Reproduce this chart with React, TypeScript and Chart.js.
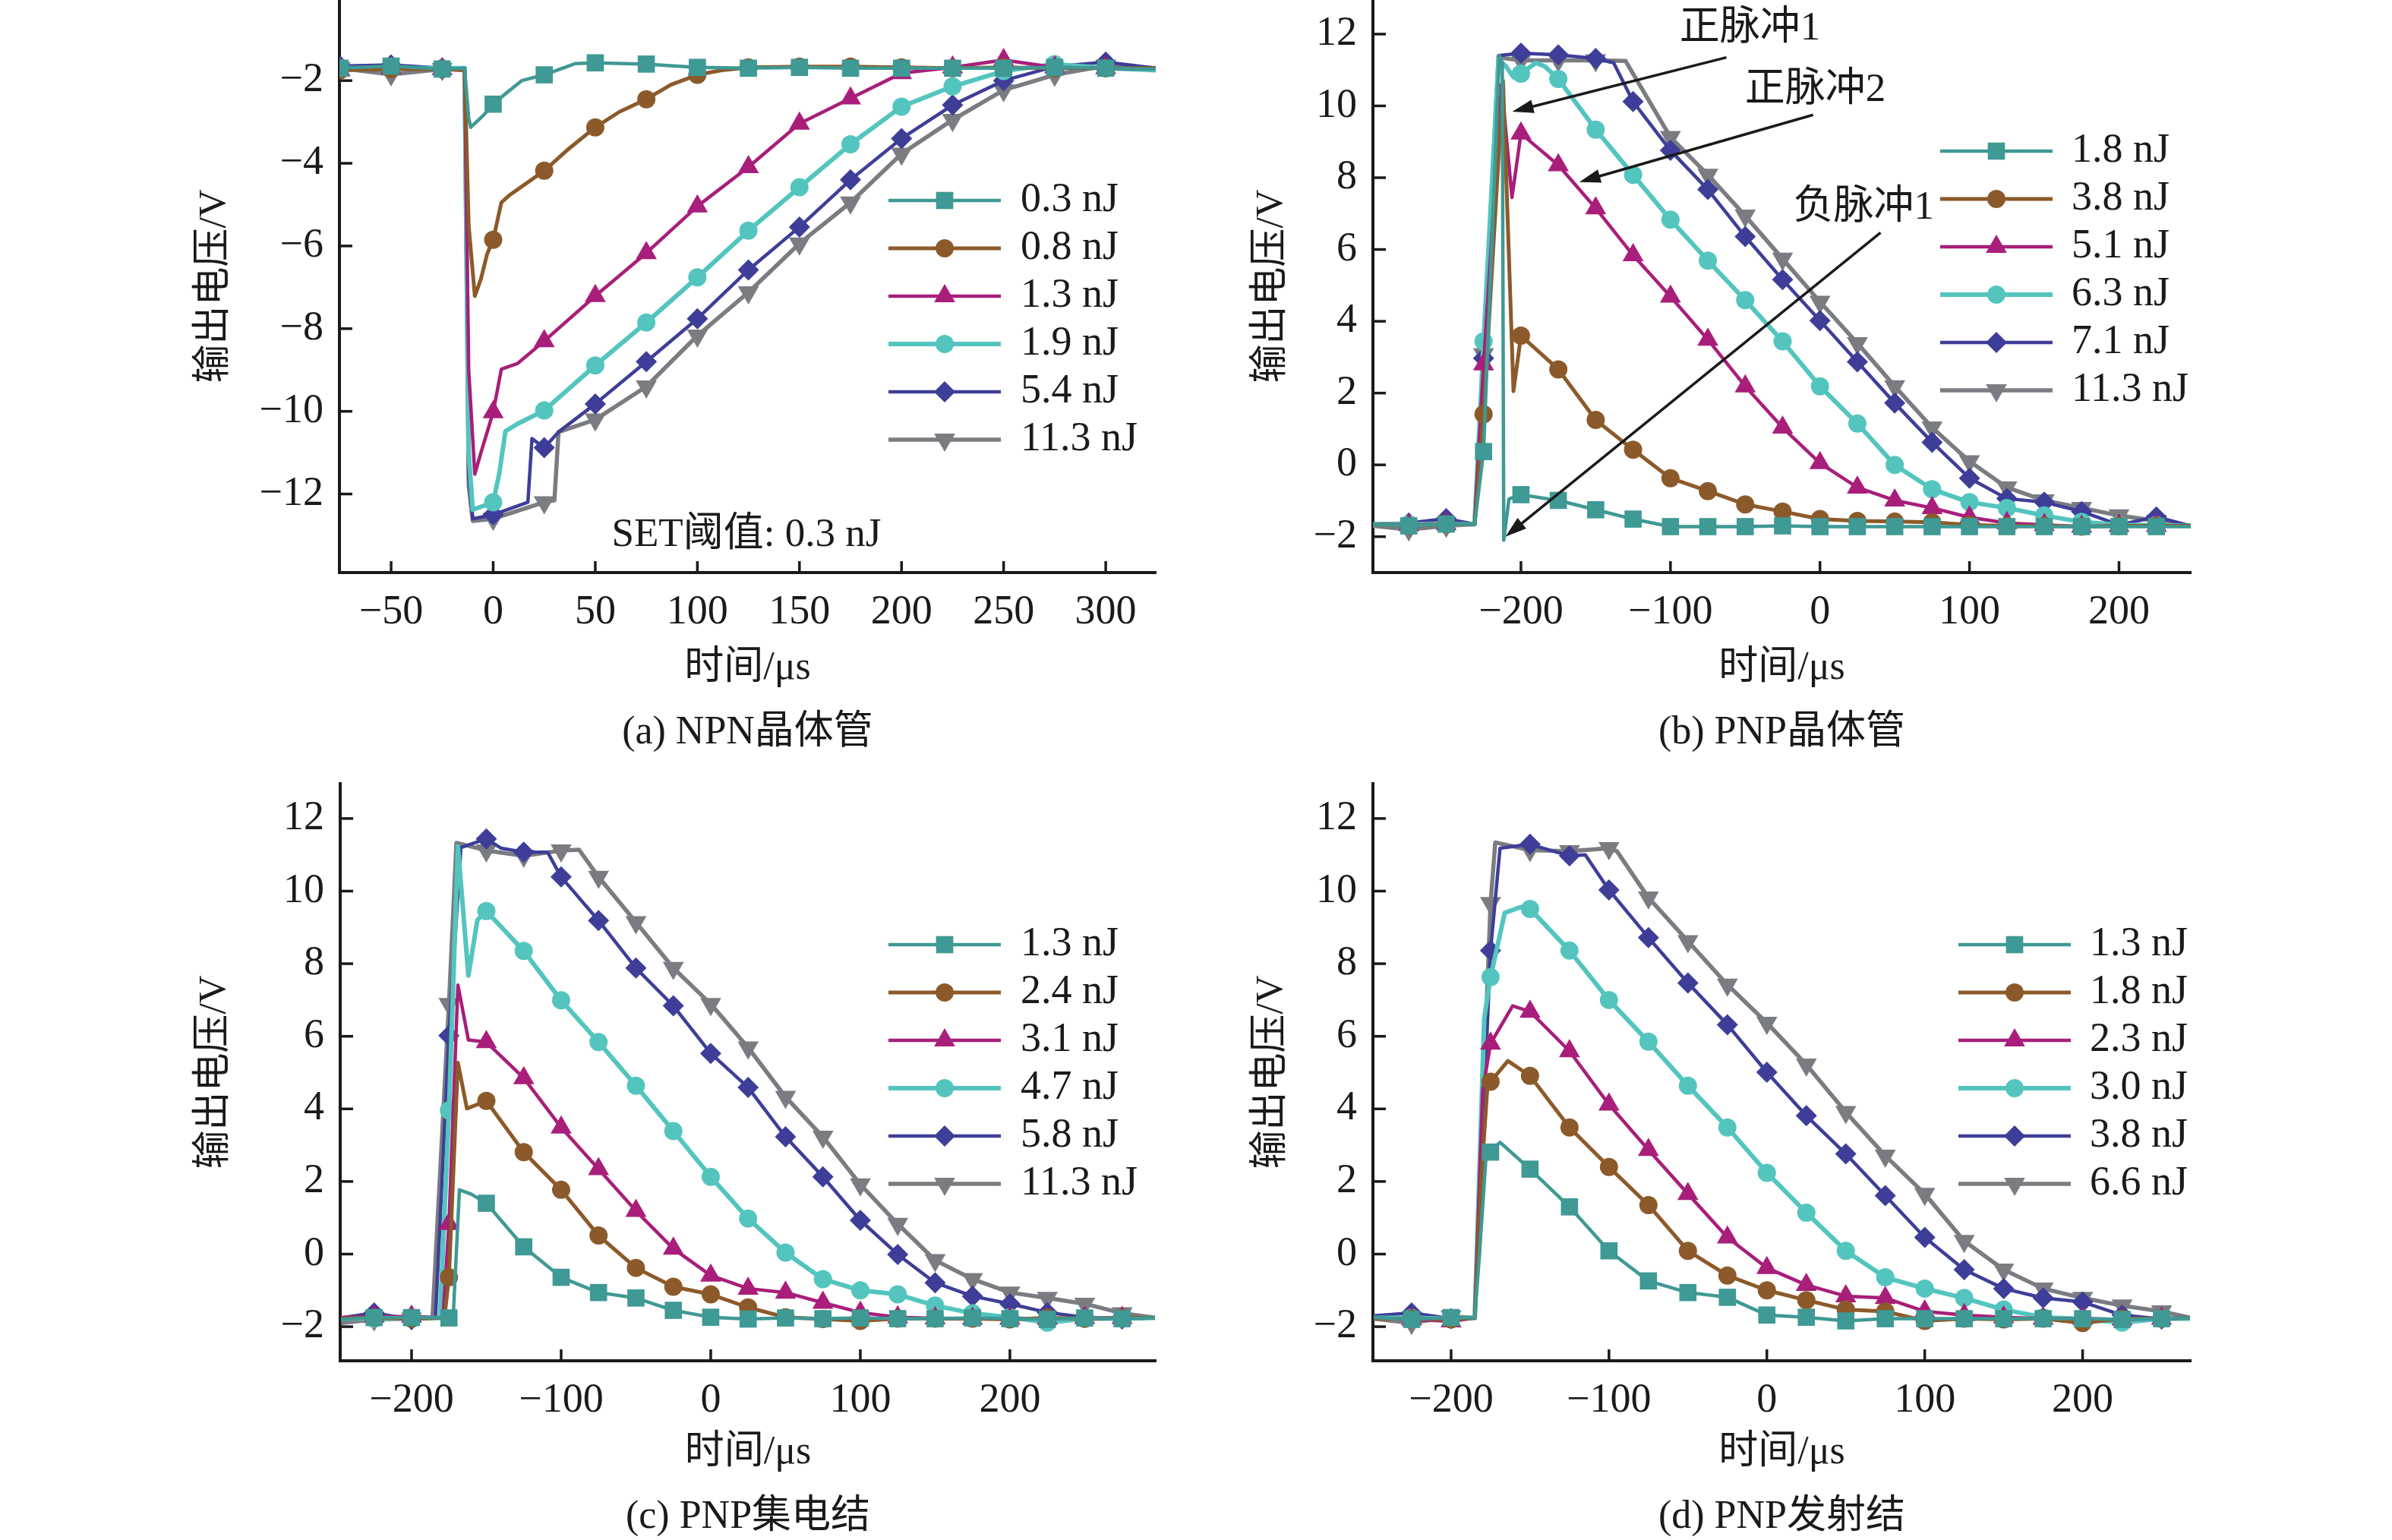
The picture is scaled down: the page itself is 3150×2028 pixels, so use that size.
import React, { useEffect, useRef } from 'react';
import { Chart, registerables } from 'chart.js';
import { drawPoint } from 'chart.js/helpers';

Chart.register(...registerables);

type Pt = [number, number];

// (a) NPN晶体管 — [时间 µs, 输出电压 V]
const npnLabels = ['0.3 nJ', '0.8 nJ', '1.3 nJ', '1.9 nJ', '5.4 nJ', '11.3 nJ'];
const npnTimeTicks = [-50, 0, 50, 100, 150, 200, 250, 300];
const npnVoltTicks = [-12, -10, -8, -6, -4, -2];
const npn03: Pt[] = [[-75, -1.7], [-50, -1.65], [-25, -1.72], [-14, -1.7], [-12, -2.9], [-11, -3.13], [-5, -2.85], [0, -2.57], [6, -2.32], [14, -2.0], [25, -1.86], [40, -1.59], [50, -1.57], [75, -1.6], [100, -1.68], [125, -1.7], [150, -1.68], [175, -1.7], [200, -1.7], [225, -1.7], [250, -1.7], [275, -1.68], [300, -1.7], [324.5, -1.72]];
const npn08: Pt[] = [[-75, -1.75], [-50, -1.72], [-25, -1.72], [-14, -1.75], [-12, -5.5], [-9, -7.21], [-6, -6.8], [-3, -6.2], [0, -5.85], [4, -4.95], [8, -4.77], [25, -4.18], [37, -3.65], [50, -3.13], [62, -2.75], [75, -2.45], [87, -2.1], [100, -1.86], [112, -1.75], [125, -1.68], [150, -1.66], [175, -1.66], [200, -1.68], [225, -1.7], [250, -1.68], [275, -1.7], [300, -1.7], [324.5, -1.7]];
const npn13: Pt[] = [[-75, -1.75], [-50, -1.7], [-25, -1.72], [-14, -1.75], [-12, -9.0], [-9, -11.52], [-6, -11.0], [0, -10.02], [4, -8.98], [12, -8.84], [25, -8.3], [50, -7.21], [75, -6.17], [100, -5.04], [125, -4.09], [150, -3.04], [175, -2.43], [200, -1.82], [225, -1.68], [250, -1.5], [275, -1.68], [300, -1.7], [324.5, -1.72]];
const npn19: Pt[] = [[-75, -1.7], [-50, -1.7], [-25, -1.7], [-14, -1.7], [-12, -11.0], [-10, -12.38], [0, -12.2], [3, -11.5], [6, -10.48], [12, -10.3], [25, -9.98], [50, -8.89], [75, -7.85], [100, -6.76], [125, -5.63], [150, -4.58], [175, -3.54], [200, -2.63], [225, -2.14], [250, -1.77], [275, -1.6], [300, -1.7], [324.5, -1.75]];
const npn54: Pt[] = [[-75, -1.65], [-50, -1.62], [-25, -1.7], [-14, -1.7], [-12, -11.5], [-10, -12.6], [0, -12.5], [17, -12.2], [19, -10.66], [25, -10.88], [32, -10.5], [50, -9.82], [75, -8.8], [100, -7.76], [125, -6.58], [150, -5.54], [175, -4.4], [200, -3.4], [225, -2.59], [250, -2.0], [275, -1.66], [300, -1.55], [324.5, -1.7]];
const npn113: Pt[] = [[-75, -1.7], [-50, -1.85], [-25, -1.72], [-14, -1.7], [-12, -11.8], [-10, -12.65], [0, -12.6], [25, -12.2], [30, -12.15], [32, -10.5], [50, -10.2], [75, -9.4], [100, -8.17], [125, -7.12], [150, -5.94], [175, -4.95], [200, -3.77], [225, -2.95], [250, -2.23], [275, -1.86], [300, -1.64], [324.5, -1.7]];

// (b) PNP晶体管
const pnpTLabels = ['1.8 nJ', '3.8 nJ', '5.1 nJ', '6.3 nJ', '7.1 nJ', '11.3 nJ'];
const pnpTimeTicks = [-200, -100, 0, 100, 200];
const pnpVoltTicks = [-2, 0, 2, 4, 6, 8, 10, 12];
const pnpT18: Pt[] = [[-299, -1.65], [-275, -1.7], [-250, -1.65], [-231, -1.65], [-225, 0.37], [-214.5, 11.4], [-212.5, 11.2], [-211.5, -2.1], [-208, -0.95], [-200, -0.83], [-175, -0.99], [-150, -1.25], [-125, -1.51], [-100, -1.72], [-75, -1.72], [-50, -1.72], [-25, -1.7], [0, -1.72], [25, -1.72], [50, -1.72], [75, -1.72], [100, -1.72], [125, -1.72], [150, -1.72], [175, -1.72], [200, -1.72], [225, -1.72], [248, -1.72]];
const pnpT38: Pt[] = [[-299, -1.65], [-275, -1.7], [-250, -1.65], [-231, -1.65], [-225, 1.41], [-212, 10.7], [-205, 2.05], [-200, 3.6], [-175, 2.66], [-150, 1.25], [-125, 0.42], [-100, -0.37], [-75, -0.73], [-50, -1.1], [-25, -1.3], [0, -1.51], [25, -1.56], [50, -1.58], [75, -1.6], [100, -1.67], [125, -1.7], [150, -1.7], [175, -1.72], [200, -1.7], [225, -1.7], [248, -1.7]];
const pnpT51: Pt[] = [[-299, -1.65], [-275, -1.68], [-250, -1.65], [-231, -1.65], [-225, 2.8], [-213, 10.6], [-206, 7.45], [-200, 9.23], [-175, 8.35], [-150, 7.15], [-125, 5.84], [-100, 4.69], [-75, 3.49], [-50, 2.19], [-25, 1.04], [0, 0.05], [25, -0.63], [50, -0.99], [75, -1.2], [100, -1.46], [125, -1.62], [150, -1.67], [175, -1.72], [200, -1.7], [225, -1.7], [248, -1.7]];
const pnpT63: Pt[] = [[-299, -1.65], [-275, -1.65], [-250, -1.65], [-231, -1.65], [-225, 3.44], [-215, 11.3], [-210, 11.1], [-205, 10.8], [-200, 10.9], [-190, 11.2], [-184, 11.1], [-175, 10.75], [-150, 9.34], [-125, 8.08], [-100, 6.83], [-75, 5.69], [-50, 4.59], [-25, 3.44], [0, 2.19], [25, 1.15], [50, 0.0], [75, -0.68], [100, -1.04], [125, -1.2], [150, -1.41], [175, -1.59], [200, -1.67], [225, -1.68], [248, -1.7]];
const pnpT71: Pt[] = [[-299, -1.65], [-275, -1.62], [-250, -1.5], [-231, -1.65], [-225, 2.97], [-215, 11.4], [-200, 11.47], [-175, 11.42], [-150, 11.32], [-138, 11.2], [-125, 10.12], [-100, 8.76], [-75, 7.67], [-50, 6.36], [-25, 5.16], [0, 4.02], [25, 2.87], [50, 1.72], [75, 0.63], [100, -0.37], [125, -0.94], [150, -1.04], [175, -1.3], [200, -1.67], [225, -1.45], [248, -1.7]];
const pnpT113: Pt[] = [[-299, -1.7], [-275, -1.8], [-250, -1.7], [-231, -1.65], [-225, 3.08], [-215, 11.35], [-200, 11.27], [-175, 11.27], [-150, 11.27], [-130, 11.25], [-120, 10.54], [-100, 9.13], [-75, 8.08], [-50, 6.94], [-25, 5.74], [0, 4.54], [25, 3.39], [50, 2.19], [75, 1.04], [100, 0.1], [125, -0.63], [150, -0.99], [175, -1.2], [200, -1.41], [225, -1.56], [248, -1.7]];

// (c) PNP集电结
const pnpCLabels = ['1.3 nJ', '2.4 nJ', '3.1 nJ', '4.7 nJ', '5.8 nJ', '11.3 nJ'];
const pnpC13: Pt[] = [[-247, -1.8], [-225, -1.75], [-200, -1.75], [-175, -1.76], [-172, -1.6], [-168, 1.77], [-160, 1.65], [-150, 1.4], [-125, 0.2], [-100, -0.64], [-75, -1.06], [-50, -1.21], [-25, -1.55], [0, -1.74], [25, -1.79], [50, -1.76], [75, -1.78], [100, -1.76], [125, -1.78], [150, -1.78], [175, -1.76], [200, -1.78], [225, -1.8], [250, -1.76], [275, -1.78], [297, -1.76]];
const pnpC24: Pt[] = [[-247, -1.78], [-225, -1.75], [-200, -1.78], [-178, -1.76], [-175, -0.64], [-169, 5.27], [-163, 4.01], [-150, 4.22], [-125, 2.81], [-100, 1.77], [-75, 0.51], [-50, -0.38], [-25, -0.9], [0, -1.11], [25, -1.47], [50, -1.74], [75, -1.79], [100, -1.84], [125, -1.78], [150, -1.78], [175, -1.78], [200, -1.8], [225, -1.76], [250, -1.78], [275, -1.76], [297, -1.76]];
const pnpC31: Pt[] = [[-247, -1.75], [-225, -1.72], [-200, -1.72], [-179, -1.76], [-175, 0.83], [-169, 7.41], [-162, 5.9], [-150, 5.84], [-125, 4.85], [-100, 3.49], [-75, 2.34], [-50, 1.19], [-25, 0.15], [0, -0.59], [25, -0.95], [50, -1.06], [75, -1.34], [100, -1.61], [125, -1.74], [150, -1.77], [175, -1.78], [200, -1.78], [225, -1.78], [250, -1.76], [275, -1.76], [297, -1.76]];
const pnpC47: Pt[] = [[-247, -1.78], [-225, -1.78], [-200, -1.76], [-181, -1.76], [-175, 3.96], [-169, 11.23], [-162, 7.67], [-156, 9.2], [-150, 9.45], [-125, 8.35], [-100, 6.99], [-75, 5.84], [-50, 4.64], [-25, 3.39], [0, 2.13], [25, 0.98], [50, 0.04], [75, -0.69], [100, -1.0], [125, -1.11], [150, -1.42], [175, -1.63], [200, -1.74], [225, -1.89], [250, -1.78], [275, -1.78], [297, -1.76]];
const pnpC58: Pt[] = [[-247, -1.76], [-225, -1.62], [-200, -1.8], [-184, -1.76], [-175, 6.02], [-167, 11.2], [-150, 11.44], [-140, 11.18], [-125, 11.07], [-109, 11.07], [-100, 10.39], [-75, 9.19], [-50, 7.88], [-25, 6.84], [0, 5.53], [25, 4.59], [50, 3.23], [75, 2.13], [100, 0.93], [125, -0.01], [150, -0.79], [175, -1.16], [200, -1.37], [225, -1.61], [250, -1.74], [275, -1.79], [297, -1.76]];
const pnpC113: Pt[] = [[-247, -1.9], [-225, -1.8], [-200, -1.78], [-186, -1.76], [-175, 6.89], [-170, 11.33], [-150, 11.12], [-125, 10.97], [-100, 11.12], [-88, 11.14], [-75, 10.39], [-50, 9.14], [-25, 7.88], [0, 6.89], [25, 5.69], [50, 4.33], [75, 3.23], [100, 1.92], [125, 0.83], [150, -0.17], [175, -0.69], [200, -1.06], [225, -1.21], [250, -1.37], [275, -1.63], [297, -1.75]];

// (d) PNP发射结
const pnpELabels = ['1.3 nJ', '1.8 nJ', '2.3 nJ', '3.0 nJ', '3.8 nJ', '6.6 nJ'];
const pnpE13: Pt[] = [[-249, -1.75], [-225, -1.8], [-200, -1.75], [-185, -1.76], [-182, 0], [-178, 2.6], [-175, 2.81], [-169, 3.08], [-150, 2.34], [-125, 1.3], [-100, 0.09], [-75, -0.74], [-50, -1.06], [-25, -1.19], [0, -1.68], [25, -1.74], [50, -1.84], [75, -1.78], [100, -1.78], [125, -1.78], [150, -1.78], [175, -1.78], [200, -1.78], [225, -1.8], [250, -1.78], [268, -1.76]];
const pnpE18: Pt[] = [[-249, -1.78], [-225, -1.78], [-200, -1.8], [-185, -1.76], [-181, 2], [-177, 4.6], [-175, 4.75], [-164, 5.32], [-150, 4.91], [-125, 3.49], [-100, 2.4], [-75, 1.35], [-50, 0.09], [-25, -0.59], [0, -1.0], [25, -1.27], [50, -1.53], [75, -1.58], [100, -1.84], [125, -1.78], [150, -1.8], [175, -1.78], [200, -1.9], [225, -1.78], [250, -1.78], [268, -1.76]];
const pnpE23: Pt[] = [[-249, -1.76], [-225, -1.8], [-200, -1.85], [-185, -1.76], [-180, 4.5], [-175, 5.8], [-161, 6.84], [-150, 6.68], [-125, 5.59], [-100, 4.12], [-75, 2.87], [-50, 1.66], [-25, 0.46], [0, -0.38], [25, -0.85], [50, -1.16], [75, -1.21], [100, -1.58], [125, -1.68], [150, -1.74], [175, -1.78], [200, -1.78], [225, -1.8], [250, -1.78], [268, -1.76]];
const pnpE30: Pt[] = [[-249, -1.76], [-225, -1.76], [-200, -1.78], [-185, -1.76], [-179, 6.5], [-175, 7.63], [-166, 9.4], [-156, 9.56], [-150, 9.51], [-125, 8.36], [-100, 7.0], [-75, 5.85], [-50, 4.64], [-25, 3.49], [0, 2.24], [25, 1.14], [50, 0.09], [75, -0.64], [100, -0.95], [125, -1.21], [150, -1.53], [175, -1.74], [200, -1.79], [225, -1.89], [250, -1.78], [268, -1.78]];
const pnpE38: Pt[] = [[-249, -1.7], [-225, -1.62], [-200, -1.78], [-185, -1.76], [-175, 8.36], [-169, 11.18], [-150, 11.29], [-125, 10.97], [-115, 11.0], [-100, 10.03], [-75, 8.72], [-50, 7.47], [-25, 6.32], [0, 5.01], [25, 3.81], [50, 2.76], [75, 1.61], [100, 0.46], [125, -0.43], [150, -0.95], [175, -1.21], [200, -1.32], [225, -1.68], [250, -1.79], [268, -1.76]];
const pnpE66: Pt[] = [[-249, -1.78], [-225, -1.9], [-200, -1.72], [-185, -1.76], [-175, 9.67], [-172, 11.34], [-150, 11.13], [-125, 11.1], [-100, 11.18], [-95, 11.1], [-75, 9.82], [-50, 8.62], [-25, 7.42], [0, 6.37], [25, 5.22], [50, 3.91], [75, 2.71], [100, 1.66], [125, 0.36], [150, -0.43], [175, -0.95], [200, -1.21], [225, -1.42], [250, -1.58], [268, -1.75]];

const INK = '#1a1a1a';
const FONT = '"Liberation Serif", "Noto Sans CJK SC", serif';
const COLORS = ['#3f9994', '#8c5a2a', '#a81e7a', '#53c5be', '#3e3e98', '#7a7c82'];
const WIDTHS = [4.5, 5, 4.5, 6, 4.5, 5.5];
const MARKS = [
    { pointStyle: 'rect', radius: 16, rotation: 0 },
    { pointStyle: 'circle', radius: 12, rotation: 0 },
    { pointStyle: 'triangle', radius: 16, rotation: 0 },
    { pointStyle: 'circle', radius: 12, rotation: 0 },
    { pointStyle: 'rectRot', radius: 14, rotation: 0 },
    { pointStyle: 'triangle', radius: 16, rotation: 180 },
];

const PANEL_W = 1575;
const PANEL_H = 1014;
const Y_AXIS_W = 150;
const X_AXIS_H = 80;

interface PanelDef {
    key: string;
    left: number;
    top: number;
    area: { l: number; t: number; r: number; b: number };
    series: Pt[][];
    labels: string[];
    xMin: number;
    xMax: number;
    xTicks: number[];
    yMin: number;
    yMax: number;
    yTicks: number[];
    legendLineX: number;
    legendTextX: number;
    legendTop: number;
    legendGap: number;
    yTitleX: number;
    xTitleY: number;
    captionY: number;
    caption: string;
    notes: { text: string; x: number; y: number }[];
    arrows: { from: Pt; to: Pt }[];
}

const panels: PanelDef[] = [
    {
        key: 'a', left: 0, top: 0,
        area: { l: 447, t: 0, r: 1522, b: 754 },
        series: [npn03, npn08, npn13, npn19, npn54, npn113], labels: npnLabels,
        xMin: -75.3, xMax: 324.5, xTicks: npnTimeTicks,
        yMin: -13.9, yMax: -0.05, yTicks: npnVoltTicks,
        legendLineX: 1170, legendTextX: 1344, legendTop: 264, legendGap: 63,
        yTitleX: 283, xTitleY: 880, captionY: 965, caption: '(a) NPN晶体管',
        notes: [{ text: 'SET阈值: 0.3 nJ', x: 124, y: -13.0 }],
        arrows: [],
    },
    {
        key: 'b', left: 1575, top: 0,
        area: { l: 233, t: 0, r: 1310, b: 754 },
        series: [pnpT18, pnpT38, pnpT51, pnpT63, pnpT71, pnpT113], labels: pnpTLabels,
        xMin: -299, xMax: 248, xTicks: pnpTimeTicks,
        yMin: -3, yMax: 12.95, yTicks: pnpVoltTicks,
        legendLineX: 980, legendTextX: 1153, legendTop: 199, legendGap: 63,
        yTitleX: 100, xTitleY: 880, captionY: 965, caption: '(b) PNP晶体管',
        notes: [
            { text: '正脉冲1', x: -46.8, y: 12.15 },
            { text: '正脉冲2', x: -3.2, y: 10.43 },
            { text: '负脉冲1', x: 29.2, y: 7.15 },
        ],
        arrows: [
            { from: [-62.6, 11.35], to: [-205.8, 9.84] },
            { from: [-4.6, 9.75], to: [-161, 7.88] },
            { from: [40.5, 6.47], to: [-210.4, -2.0] },
        ],
    },
    {
        key: 'c', left: 0, top: 1014,
        area: { l: 448, t: 18, r: 1522, b: 778 },
        series: [pnpC13, pnpC24, pnpC31, pnpC47, pnpC58, pnpC113], labels: pnpCLabels,
        xMin: -247.7, xMax: 297.5, xTicks: pnpTimeTicks,
        yMin: -2.94, yMax: 12.96, yTicks: pnpVoltTicks,
        legendLineX: 1170, legendTextX: 1344, legendTop: 230, legendGap: 63,
        yTitleX: 283, xTitleY: 899, captionY: 984, caption: '(c) PNP集电结',
        notes: [], arrows: [],
    },
    {
        key: 'd', left: 1575, top: 1014,
        area: { l: 233, t: 18, r: 1310, b: 778 },
        series: [pnpE13, pnpE18, pnpE23, pnpE30, pnpE38, pnpE66], labels: pnpELabels,
        xMin: -249.5, xMax: 268.5, xTicks: pnpTimeTicks,
        yMin: -2.94, yMax: 12.96, yTicks: pnpVoltTicks,
        legendLineX: 1004, legendTextX: 1177, legendTop: 230, legendGap: 63,
        yTitleX: 100, xTitleY: 899, captionY: 984, caption: '(d) PNP发射结',
        notes: [], arrows: [],
    },
];

const fmtTick = (v: number | string) => {
    const n = Number(v);
    return n < 0 ? '\u2212' + Math.abs(n) : String(n);
};

const drawArrow = (ctx: CanvasRenderingContext2D, x1: number, y1: number, x2: number, y2: number) => {
    const ang = Math.atan2(y2 - y1, x2 - x1);
    const L = 28;
    const W = 9;
    const c = Math.cos(ang);
    const s = Math.sin(ang);
    ctx.beginPath();
    ctx.moveTo(x1, y1);
    ctx.lineTo(x2 - L * 0.7 * c, y2 - L * 0.7 * s);
    ctx.stroke();
    ctx.beginPath();
    ctx.moveTo(x2, y2);
    ctx.lineTo(x2 - L * c + W * s, y2 - L * s - W * c);
    ctx.lineTo(x2 - L * c - W * s, y2 - L * s + W * c);
    ctx.closePath();
    ctx.fill();
};

// ticks pointing inward, axis titles, legend and notes
const makeDecor = (p: PanelDef) => ({
    id: 'decor_' + p.key,
    afterDraw(chart: Chart) {
        const { ctx, chartArea: a } = chart;
        const xs = chart.scales.x;
        const ys = chart.scales.y;
        ctx.save();
        ctx.strokeStyle = INK;
        ctx.lineWidth = 3.5;
        xs.ticks.forEach((t) => {
            const px = xs.getPixelForValue(t.value);
            ctx.beginPath();
            ctx.moveTo(px, a.bottom);
            ctx.lineTo(px, a.bottom - 15);
            ctx.stroke();
        });
        ys.ticks.forEach((t) => {
            const py = ys.getPixelForValue(t.value);
            ctx.beginPath();
            ctx.moveTo(a.left, py);
            ctx.lineTo(a.left + 17, py);
            ctx.stroke();
        });

        ctx.fillStyle = INK;
        ctx.textAlign = 'center';
        ctx.textBaseline = 'middle';
        ctx.font = `52px ${FONT}`;
        const cx = (a.left + a.right) / 2;
        ctx.fillText('时间/μs', cx, p.xTitleY);
        ctx.fillText(p.caption, cx, p.captionY);
        ctx.save();
        ctx.translate(p.yTitleX, (a.top + a.bottom) / 2);
        ctx.rotate(-Math.PI / 2);
        ctx.font = `51px ${FONT}`;
        ctx.fillText('输出电压/V', 0, 0);
        ctx.restore();

        // legend
        p.labels.forEach((label, i) => {
            const y = p.legendTop + i * p.legendGap;
            ctx.strokeStyle = COLORS[i];
            ctx.lineWidth = WIDTHS[i];
            ctx.beginPath();
            ctx.moveTo(p.legendLineX, y);
            ctx.lineTo(p.legendLineX + 148, y);
            ctx.stroke();
            ctx.fillStyle = COLORS[i];
            drawPoint(ctx, { ...MARKS[i], borderWidth: 0 } as any, p.legendLineX + 74, y);
            ctx.fillStyle = INK;
            ctx.textAlign = 'left';
            ctx.font = `54px ${FONT}`;
            ctx.fillText(label, p.legendTextX, y);
        });

        ctx.textAlign = 'center';
        ctx.font = `53px ${FONT}`;
        ctx.fillStyle = INK;
        p.notes.forEach((n) => {
            ctx.fillText(n.text, xs.getPixelForValue(n.x), ys.getPixelForValue(n.y));
        });
        ctx.strokeStyle = INK;
        ctx.lineWidth = 3.5;
        p.arrows.forEach((ar) => {
            drawArrow(
                ctx,
                xs.getPixelForValue(ar.from[0]), ys.getPixelForValue(ar.from[1]),
                xs.getPixelForValue(ar.to[0]), ys.getPixelForValue(ar.to[1]),
            );
        });
        ctx.restore();
    },
});

const Panel: React.FC<{ p: PanelDef }> = ({ p }) => {
    const canvasRef = useRef<HTMLCanvasElement>(null);

    useEffect(() => {
        const canvas = canvasRef.current;
        if (!canvas) return;
        Chart.defaults.font.family = FONT;
        Chart.defaults.color = INK;

        const tickFont = { size: 54, family: FONT };
        const chart = new Chart(canvas, {
            type: 'line',
            data: {
                datasets: p.series.map((pts, i) => ({
                    label: p.labels[i],
                    data: pts.map(([x, y]) => ({ x, y })),
                    borderColor: COLORS[i],
                    backgroundColor: COLORS[i],
                    borderWidth: WIDTHS[i],
                    borderJoinStyle: 'round' as const,
                    tension: 0,
                    pointStyle: MARKS[i].pointStyle as any,
                    rotation: MARKS[i].rotation,
                    // a marker every 25 µs, plain trace in between
                    pointRadius: (c: any) => (c.raw && Math.abs(c.raw.x % 25) < 1e-6 ? MARKS[i].radius : 0),
                    pointBorderWidth: 0,
                    pointHoverRadius: 0,
                })),
            },
            options: {
                responsive: false,
                animation: false,
                devicePixelRatio: 1,
                events: [],
                layout: {
                    autoPadding: false,
                    padding: {
                        left: p.area.l - Y_AXIS_W,
                        top: p.area.t,
                        right: PANEL_W - p.area.r,
                        bottom: PANEL_H - p.area.b - X_AXIS_H,
                    },
                },
                plugins: { legend: { display: false }, tooltip: { enabled: false } },
                scales: {
                    x: {
                        type: 'linear',
                        min: p.xMin,
                        max: p.xMax,
                        afterBuildTicks: (s: any) => { s.ticks = p.xTicks.map((v) => ({ value: v })); },
                        afterFit: (s: any) => { s.height = X_AXIS_H; s.paddingLeft = 0; s.paddingRight = 0; s.paddingTop = 0; s.paddingBottom = 0; },
                        ticks: { autoSkip: false, maxRotation: 0, padding: 20, font: tickFont, color: INK, callback: fmtTick },
                        grid: { display: false, drawTicks: false },
                        border: { display: true, color: INK, width: 4 },
                    },
                    y: {
                        type: 'linear',
                        min: p.yMin,
                        max: p.yMax,
                        afterBuildTicks: (s: any) => { s.ticks = p.yTicks.map((v) => ({ value: v })); },
                        afterFit: (s: any) => { s.width = Y_AXIS_W; s.paddingTop = 0; s.paddingBottom = 0; s.paddingLeft = 0; s.paddingRight = 0; },
                        ticks: { autoSkip: false, padding: 21, font: tickFont, color: INK, callback: fmtTick },
                        grid: { display: false, drawTicks: false },
                        border: { display: true, color: INK, width: 4 },
                    },
                },
            },
            plugins: [makeDecor(p)],
        });

        return () => {
            chart.destroy();
        };
    }, [p]);

    return (
        <canvas
            ref={canvasRef}
            width={PANEL_W}
            height={PANEL_H}
            style={{ position: 'absolute', left: p.left, top: p.top, width: PANEL_W, height: PANEL_H }}
        />
    );
};

const App: React.FC = () => (
    <div style={{ position: 'absolute', left: 0, top: 0, width: 3150, height: 2028, background: '#fff' }}>
        {panels.map((p) => (
            <Panel key={p.key} p={p} />
        ))}
    </div>
);

export default App;
